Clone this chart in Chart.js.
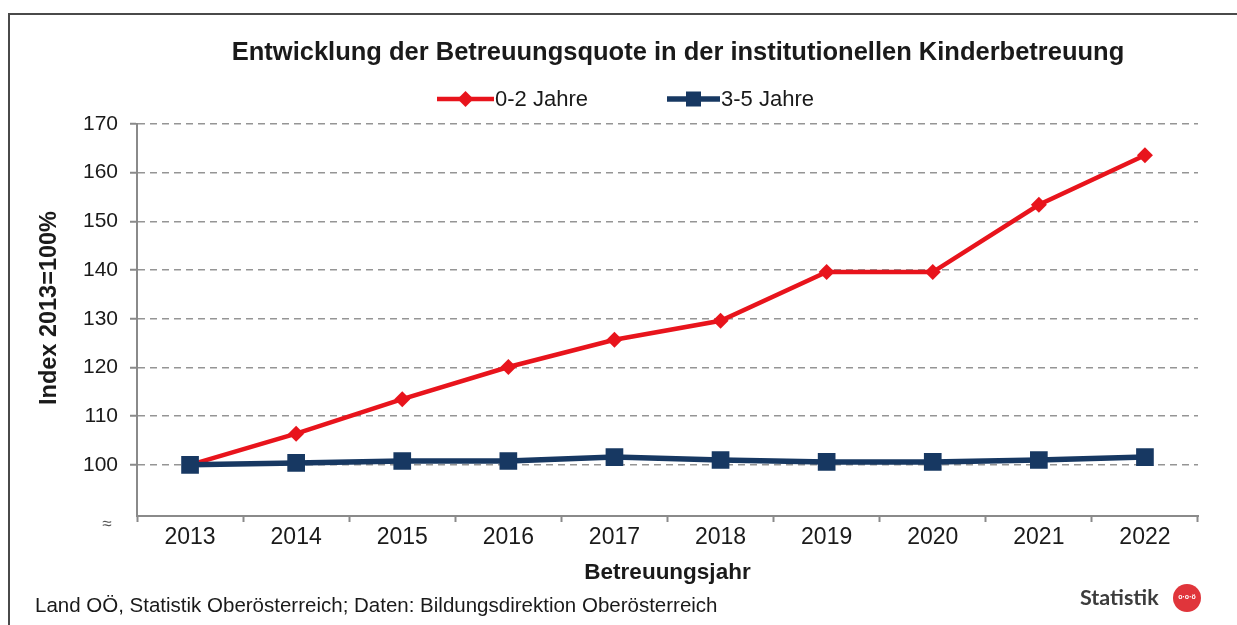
<!DOCTYPE html>
<html>
<head>
<meta charset="utf-8">
<script src="https://cdn.jsdelivr.net/npm/chart.js@4.4.0/dist/chart.umd.min.js"></script>
<style>
  html, body { margin: 0; padding: 0; background: #fff; }
  #wrap { width: 1237px; height: 625px; }
</style>
</head>
<body>
<div id="wrap"><canvas id="chart" width="1237" height="625"></canvas></div>
<script>
// Daten
const years = ['2013', '2014', '2015', '2016', '2017', '2018', '2019', '2020', '2021', '2022'];
const quote02 = [100, 106.4, 113.5, 120.1, 125.7, 129.6, 139.6, 139.6, 153.4, 163.6];
const quote35 = [100, 100.4, 100.8, 100.8, 101.6, 101.0, 100.6, 100.6, 101.0, 101.6];
const yTicks = [100, 110, 120, 130, 140, 150, 160, 170];

const titleText = 'Entwicklung der Betreuungsquote in der institutionellen Kinderbetreuung';
const yTitleText = 'Index 2013=100%';
const sourceText = 'Land OÖ, Statistik Oberösterreich; Daten: Bildungsdirektion Oberösterreich';

const RED = '#e8141c';
const NAVY = '#173862';
const FONT = '"Liberation Sans", Arial, sans-serif';

// Marker zeichnen (Legende)
function drawMarker(ctx, style, x, y, r, color) {
    ctx.fillStyle = color;
    ctx.beginPath();
    if (style === 'rectRot') {
        ctx.moveTo(x, y - r);
        ctx.lineTo(x + r, y);
        ctx.lineTo(x, y + r);
        ctx.lineTo(x - r, y);
    } else {
        ctx.rect(x - r, y - r, 2 * r, 2 * r);
    }
    ctx.closePath();
    ctx.fill();
}

const decor = {
    id: 'decor',
    beforeDraw(chart) {
        const ctx = chart.ctx;
        ctx.save();
        ctx.fillStyle = '#fff';
        ctx.fillRect(0, 0, chart.width, chart.height);
        ctx.restore();
    },
    afterDraw(chart) {
        const ctx = chart.ctx;
        ctx.save();

        // Rahmen
        ctx.strokeStyle = '#4a4a4a';
        ctx.lineWidth = 2;
        ctx.beginPath();
        ctx.moveTo(9, 625);
        ctx.lineTo(9, 14);
        ctx.lineTo(1237, 14);
        ctx.stroke();

        // Titel
        ctx.fillStyle = '#1a1a1a';
        ctx.font = 'bold 25.5px ' + FONT;
        ctx.textAlign = 'center';
        ctx.textBaseline = 'middle';
        ctx.fillText(titleText, 678, 53);

        // y-Achsentitel
        ctx.save();
        ctx.translate(50, 308);
        ctx.rotate(-Math.PI / 2);
        ctx.font = 'bold 23.5px ' + FONT;
        ctx.fillText(yTitleText, 0, 0);
        ctx.restore();

        // Legende
        ctx.font = '22px ' + FONT;
        ctx.textAlign = 'left';
        const items = [
            { ds: chart.data.datasets[0], x: 437, len: 57, style: 'rectRot', r: 8 },
            { ds: chart.data.datasets[1], x: 667, len: 53, style: 'rect', r: 7.5 }
        ];
        items.forEach(it => {
            const y = 99;
            ctx.strokeStyle = it.ds.borderColor;
            ctx.lineWidth = it.ds.borderWidth;
            ctx.beginPath();
            ctx.moveTo(it.x, y);
            ctx.lineTo(it.x + it.len, y);
            ctx.stroke();
            drawMarker(ctx, it.style, it.x + it.len / 2, y, it.r, it.ds.borderColor);
            ctx.fillStyle = '#1a1a1a';
            ctx.fillText(it.ds.label, it.x + it.len + 1, y + 1);
        });

        // Achsenbruch
        ctx.fillStyle = '#555';
        ctx.font = '17px ' + FONT;
        ctx.textAlign = 'center';
        ctx.fillText('≈', 107, 524);

        // Quelle
        ctx.fillStyle = '#1a1a1a';
        ctx.font = '20.5px ' + FONT;
        ctx.textAlign = 'left';
        ctx.fillText(sourceText, 35, 606);

        // Logo
        ctx.fillStyle = '#3c3c3c';
        ctx.font = 'bold 21.5px Lato, sans-serif';
        ctx.textAlign = 'left';
        ctx.fillText('Statistik', 1080, 598);
        ctx.fillStyle = '#e0353b';
        ctx.beginPath();
        ctx.arc(1187, 598, 14, 0, Math.PI * 2);
        ctx.fill();
        ctx.fillStyle = '#fff';
        ctx.font = 'bold 7px ' + FONT;
        ctx.textAlign = 'center';
        ctx.fillText('o·o·ö', 1187, 597);

        ctx.restore();
    }
};

const ctx = document.getElementById('chart').getContext('2d');
const chart = new Chart(ctx, {
    type: 'line',
    data: {
        labels: years,
        datasets: [{
            label: '0-2 Jahre',
            data: quote02,
            borderColor: RED,
            backgroundColor: RED,
            borderWidth: 4.5,
            pointStyle: 'rectRot',
            pointRadius: 8,
            pointBorderWidth: 0,
            tension: 0,
            order: 1
        }, {
            label: '3-5 Jahre',
            data: quote35,
            borderColor: NAVY,
            backgroundColor: NAVY,
            borderWidth: 5.5,
            pointStyle: 'rect',
            pointRadius: 12.5,
            pointBorderWidth: 0,
            tension: 0,
            order: 0
        }]
    },
    options: {
        responsive: false,
        animation: false,
        layout: { padding: { top: 124, left: 10, right: 39, bottom: 39 } },
        plugins: {
            legend: { display: false },
            title: { display: false },
            tooltip: { enabled: false }
        },
        scales: {
            x: {
                offset: true,
                grid: {
                    offset: true,
                    drawOnChartArea: false,
                    drawTicks: true,
                    tickLength: 6,
                    tickColor: '#8a8a8a',
                    tickWidth: 2
                },
                border: { color: '#8a8a8a', width: 2 },
                ticks: {
                    color: '#1a1a1a',
                    font: { family: FONT, size: 23 },
                    padding: 2,
                    maxRotation: 0
                },
                title: {
                    display: true,
                    text: 'Betreuungsjahr',
                    color: '#1a1a1a',
                    font: { family: FONT, size: 22.5, weight: 'bold' },
                    padding: { top: 0, bottom: 0 }
                },
                afterFit(scale) { scale.height = 70; }
            },
            y: {
                min: 89.5,
                max: 170,
                afterBuildTicks(scale) {
                    scale.ticks = yTicks.map(v => ({ value: v }));
                },
                grid: {
                    color: '#959595',
                    lineWidth: 1.5,
                    drawTicks: true,
                    tickLength: 7,
                    tickColor: '#8a8a8a',
                    tickWidth: 2,
                    tickBorderDash: []
                },
                border: { color: '#8a8a8a', width: 2, dash: [7, 5] },
                ticks: {
                    color: '#1a1a1a',
                    font: { family: FONT, size: 21 },
                    padding: 12
                },
                title: { display: false },
                afterFit(scale) { scale.width = 127; }
            }
        }
    },
    plugins: [decor]
});
</script>
</body>
</html>
